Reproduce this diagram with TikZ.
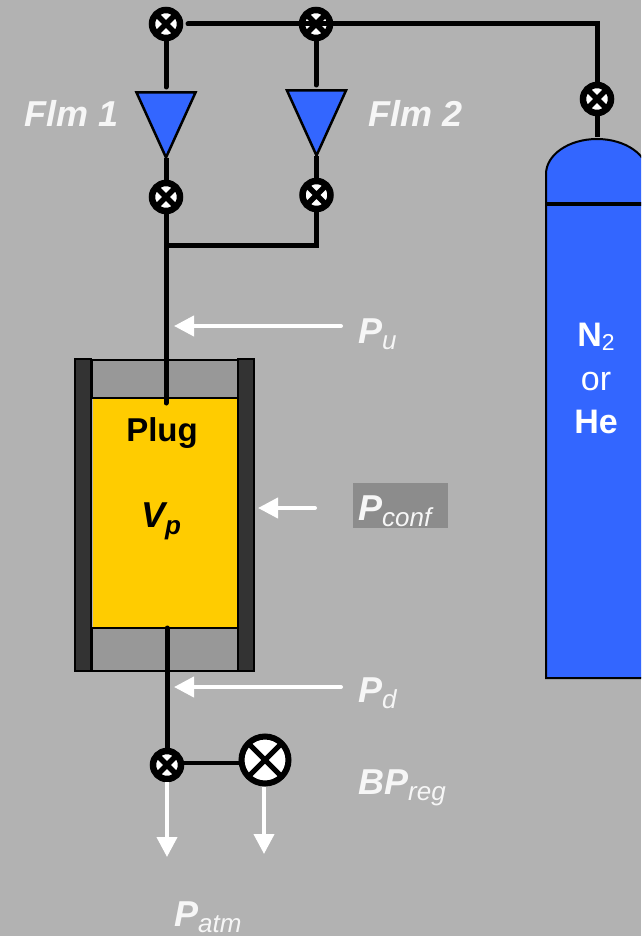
\documentclass[tikz,border=0pt]{standalone}
\usepackage{fontspec}
\setmainfont{Liberation Sans}
\usetikzlibrary{shapes.geometric,arrows.meta}
\definecolor{bgc}{HTML}{B2B2B2}
\definecolor{bluec}{HTML}{3366FF}
\definecolor{yellowc}{HTML}{FFCC00}
\definecolor{wallc}{HTML}{333333}
\definecolor{capc}{HTML}{989898}
\definecolor{confc}{HTML}{8C8C8C}
\definecolor{txtc}{HTML}{F6F6F6}
\newcommand{\biglab}[1]{{\fontsize{36}{38}\selectfont\bfseries\itshape #1}}
\newcommand{\sublab}[1]{\raisebox{-6pt}{\fontsize{26}{28}\selectfont\itshape #1}}
\tikzset{
  valvebase/.style={circle,draw=black,fill=white,inner sep=0pt,
    path picture={\draw[line width=#1]
      (path picture bounding box.north west)--(path picture bounding box.south east)
      (path picture bounding box.north east)--(path picture bounding box.south west);}},
  valve/.style={valvebase=5.5pt,minimum size=28pt,line width=6.5pt},
  bigvalve/.style={valvebase=5pt,minimum size=47pt,line width=6pt},
  flow/.style={isosceles triangle,isosceles triangle stretches,shape border rotate=270,
    draw=black,fill=bluec,line width=2.5pt,inner sep=0pt,minimum width=59pt,minimum height=65pt},
  pipe/.style={draw=black,line width=5pt,line cap=round},
  thinpipe/.style={draw=black,line width=4.5pt,line cap=butt},
  pressure/.style={draw=txtc,line width=4pt,-{Triangle[length=20pt,width=20pt,fill=white]},color=white},
  lab/.style={text=txtc,inner sep=0pt,anchor=base west},
  wall/.style={draw=black,fill=wallc,line width=2pt},
  capzone/.style={draw=black,fill=capc,line width=2pt},
}
\begin{document}
\begin{tikzpicture}[x=1pt,y=-1pt]
\useasboundingbox (0,0) rectangle (641,936);
\fill[bgc] (0,0) rectangle (641,936);
% tank
\begin{scope}
\clip (0,0) rectangle (641,936);
\draw[draw=black,fill=bluec,line width=2pt] (546,678) -- (546,174)
  arc[start angle=180,end angle=0,x radius=51,y radius=-35] -- (648,678) -- cycle;
\draw[black,line width=4pt] (546,204) -- (648,204);
\end{scope}
\coordinate (tanktop) at (597,137);
% cell
\draw[capzone] (92,360) rectangle (238,398);
\draw[capzone] (92,628) rectangle (238,671);
\fill[yellowc] (93,399) rectangle (237,627);
\draw[wall] (75,359) rectangle (91,671);
\draw[wall] (238,359) rectangle (254,671);
\coordinate (plugtop) at (166,403);
\coordinate (plugbot) at (167,628);
% nodes
\node[flow] (f1) at (166,111.5) {};
\node[flow] (f2) at (316.5,109.5) {};
\node[valve] (v1) at (166,24) {};
\node[valve] (v2) at (316,24) {};
\node[valve] (v3) at (166,197) {};
\node[valve] (v4) at (316.5,195) {};
\node[valve] (v5) at (597,99) {};
\node[valve] (v6) at (167,765) {};
\node[bigvalve] (bp) at (265,760) {};
\coordinate (hstart) at (188,24);
\coordinate (hcorner) at (597,24);
\coordinate (j1) at (166,245);
\coordinate (j2) at (316.5,245);
\coordinate (f1top) at (166,87);
\coordinate (f2top) at (316,85);
\coordinate (pj) at (180,763);
\coordinate (pk) at (244,763);
% pipes
\draw[pipe,line cap=butt,shorten <=-3pt] (f1.apex) -- (v3);
\draw[pipe,line cap=butt,shorten <=-3pt] (f2.apex) -- (v4);
\draw[pipe] (v1) -- (f1top);
\draw[pipe] (v2) -- (f2top);
\draw[pipe] (hstart) -- (hcorner) -- (v5);
\draw[pipe,line cap=butt] (v5) -- (tanktop);
\draw[pipe] (v3) -- (plugtop);
\draw[pipe,line cap=butt] (v4) -- (j2) -- (j1);
\draw[pipe] (plugbot) -- (v6);
\draw[thinpipe] (pj) -- (pk);
% pressure arrows
\coordinate (pus) at (341,326); \coordinate (put) at (174,326);
\coordinate (pcs) at (315,508); \coordinate (pct) at (258,508);
\coordinate (pds) at (341,687); \coordinate (pdt) at (174,687);
\coordinate (a1) at (167,857); \coordinate (a2) at (264,854);
\draw[pressure,line cap=round] (pus) -- (put);
\draw[pressure,line cap=round] (pcs) -- (pct);
\draw[pressure,line cap=round] (pds) -- (pdt);
\draw[pressure] (v6) -- (a1);
\draw[pressure] (bp.south -| a2) -- (a2);
% labels
\node[draw=none,fill=confc,minimum width=95pt,minimum height=45pt,inner sep=0pt] (cbox) at (400.5,505.5) {};
\node[lab] (tf1) at (24,127) {\biglab{Flm 1}};
\node[lab] (tf2) at (368,127) {\biglab{Flm 2}};
\node[lab] (tu) at (358,343) {\biglab{P}\sublab{u}};
\node[lab] (tc) at (358,520) {\biglab{P}\sublab{conf}};
\node[lab] (td) at (358,702) {\biglab{P}\sublab{d}};
\node[lab] (tb) at (358,794) {\biglab{BP}\sublab{reg}};
\node[lab] (ta) at (174,926) {\biglab{P}\sublab{atm}};
\node[inner sep=0pt,anchor=base,text=black] (tplug) at (162,441) {\fontsize{33}{35}\selectfont\bfseries Plug};
\node[inner sep=0pt,anchor=base,text=black] (tv) at (161,527) {\biglab{V}\raisebox{-7pt}{\fontsize{26}{28}\selectfont\bfseries\itshape p}};
\node[inner sep=0pt,anchor=base,text=white] (tn) at (596,346) {\fontsize{34}{36}\selectfont\bfseries N\raisebox{-4pt}{\fontsize{23}{25}\selectfont\mdseries 2}};
\node[inner sep=0pt,anchor=base,text=white] (tor) at (596,390) {\fontsize{34}{36}\selectfont or};
\node[inner sep=0pt,anchor=base,text=white] (the) at (596,433) {\fontsize{34}{36}\selectfont\bfseries He};
\end{tikzpicture}
\end{document}
